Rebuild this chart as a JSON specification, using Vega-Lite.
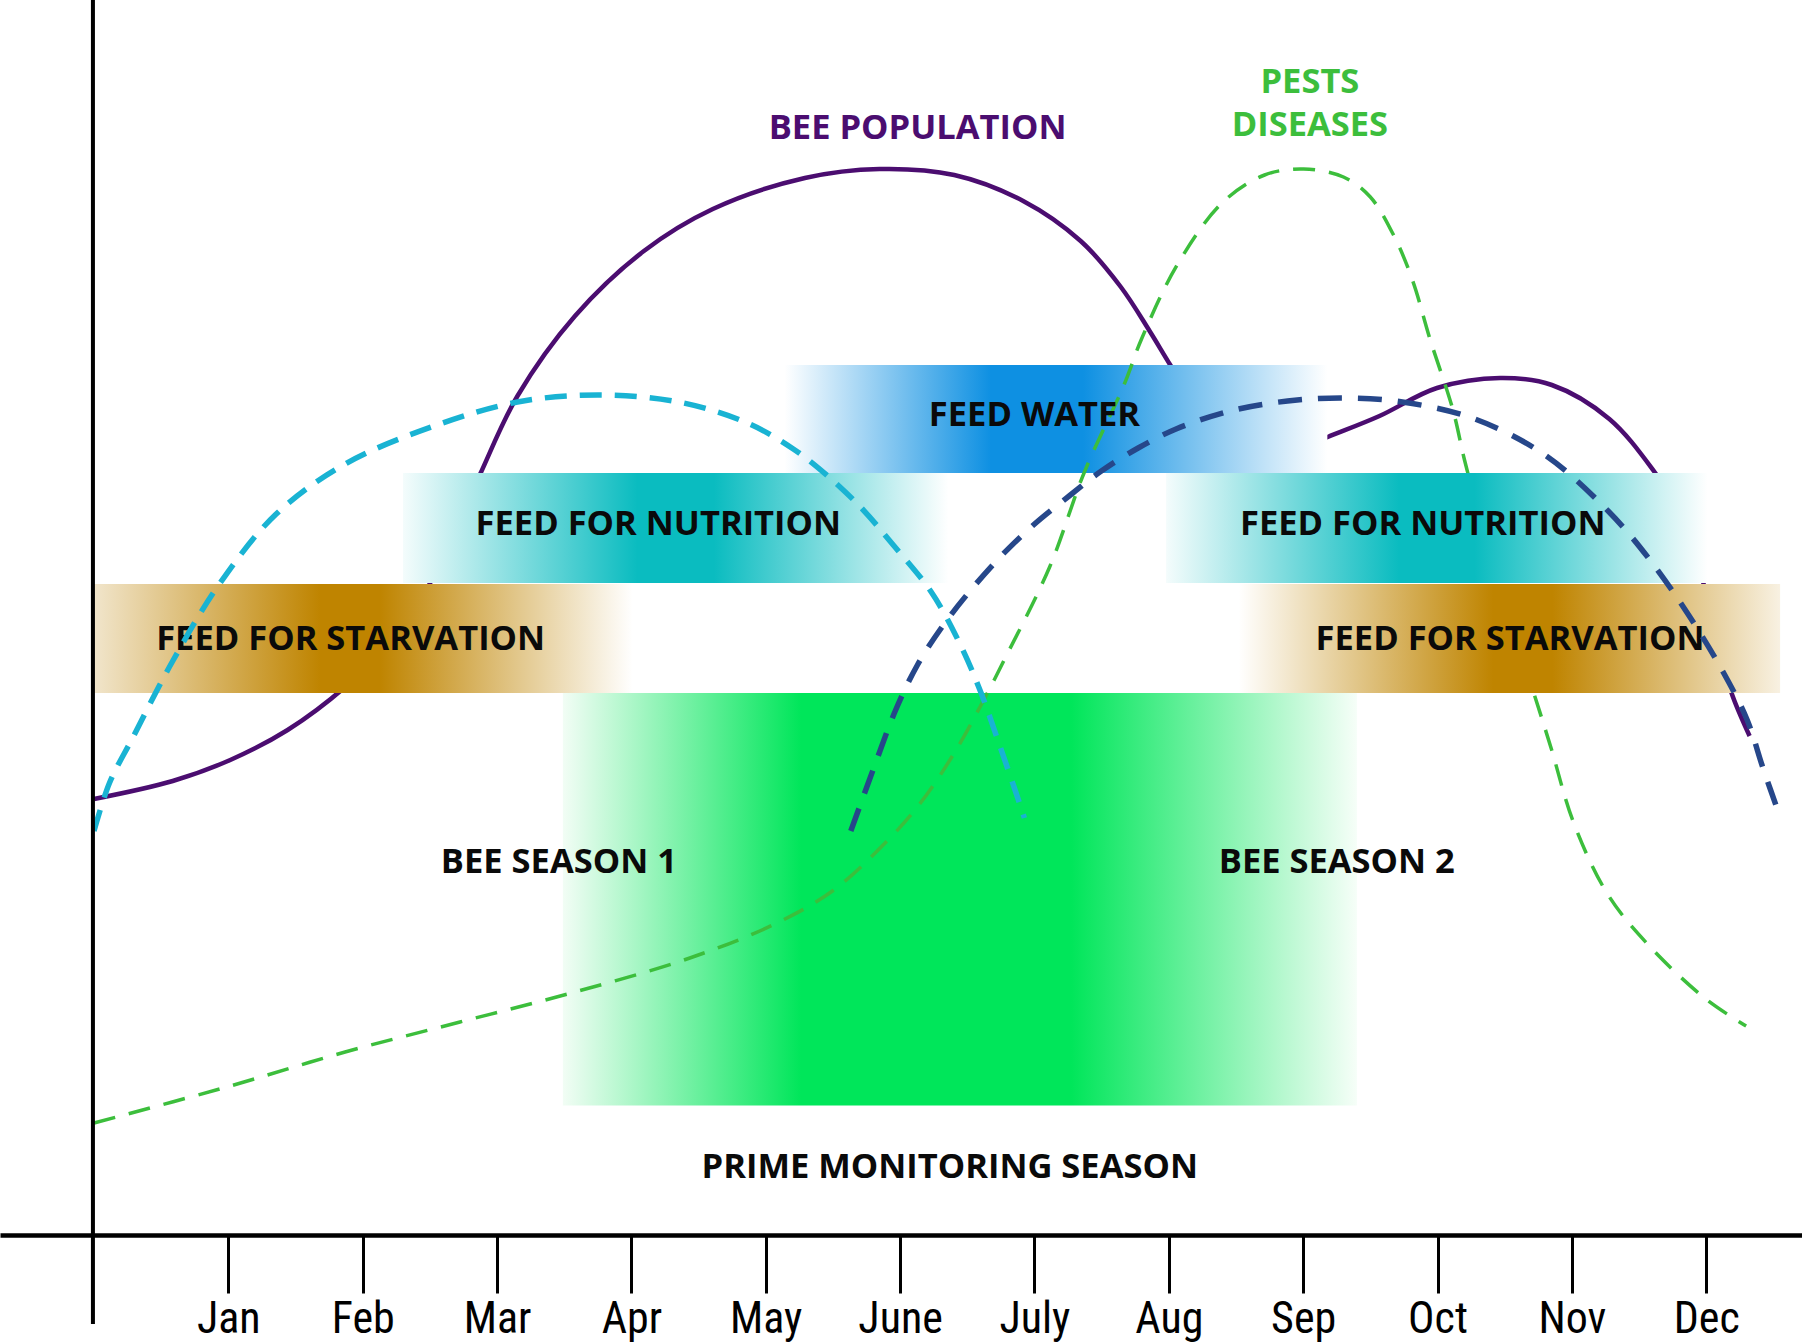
{
  "$schema": "https://vega.github.io/schema/vega-lite/v6.json",
  "width": 1802,
  "height": 1343,
  "autosize": {"type": "none"},
  "padding": 0,
  "background": "white",
  "config": {"view": {"stroke": null}},
  "datasets": {
    "bands": [
      {"band": "water", "m": 5.14, "m2": 9.18, "v": 76.2, "v2": 87.0},
      {"band": "monitor", "m": 3.49, "m2": 9.40, "v": 12.95, "v2": 54.2},
      {"band": "nutritionL", "m": 2.30, "m2": 6.36, "v": 65.2, "v2": 76.2},
      {"band": "nutritionR", "m": 7.98, "m2": 12.01, "v": 65.2, "v2": 76.2},
      {"band": "starvationL", "m": 0.0, "m2": 4.01, "v": 54.2, "v2": 65.1},
      {"band": "starvationR", "m": 8.52, "m2": 12.55, "v": 54.2, "v2": 65.1}
    ],
    "curves": [
      {"series": "Bee population", "m": 0.0, "v": 43.6},
      {"series": "Bee population", "m": 0.586, "v": 45.4},
      {"series": "Bee population", "m": 1.014, "v": 47.5},
      {"series": "Bee population", "m": 1.441, "v": 50.5},
      {"series": "Bee population", "m": 1.869, "v": 54.8},
      {"series": "Bee population", "m": 2.211, "v": 59.4},
      {"series": "Bee population", "m": 2.502, "v": 65.2},
      {"series": "Bee population", "m": 2.724, "v": 71.6},
      {"series": "Bee population", "m": 2.878, "v": 76.2},
      {"series": "Bee population", "m": 3.152, "v": 83.9},
      {"series": "Bee population", "m": 3.580, "v": 91.9},
      {"series": "Bee population", "m": 4.093, "v": 98.4},
      {"series": "Bee population", "m": 4.606, "v": 102.6},
      {"series": "Bee population", "m": 5.291, "v": 105.7},
      {"series": "Bee population", "m": 5.847, "v": 106.6},
      {"series": "Bee population", "m": 6.403, "v": 106.0},
      {"series": "Bee population", "m": 6.916, "v": 103.4},
      {"series": "Bee population", "m": 7.344, "v": 99.4},
      {"series": "Bee population", "m": 7.643, "v": 94.8},
      {"series": "Bee population", "m": 7.857, "v": 90.4},
      {"series": "Bee population", "m": 8.011, "v": 87.0},
      {"series": "Bee population", "m": 8.370, "v": 79.3},
      {"series": "Bee population", "m": 8.713, "v": 77.8},
      {"series": "Bee population", "m": 8.969, "v": 78.6},
      {"series": "Bee population", "m": 9.183, "v": 79.8},
      {"series": "Bee population", "m": 9.568, "v": 81.9},
      {"series": "Bee population", "m": 9.996, "v": 84.7},
      {"series": "Bee population", "m": 10.466, "v": 85.7},
      {"series": "Bee population", "m": 10.851, "v": 85.0},
      {"series": "Bee population", "m": 11.279, "v": 81.6},
      {"series": "Bee population", "m": 11.621, "v": 76.2},
      {"series": "Bee population", "m": 11.835, "v": 71.8},
      {"series": "Bee population", "m": 11.963, "v": 66.0},
      {"series": "Bee population", "m": 12.092, "v": 59.1},
      {"series": "Bee population", "m": 12.186, "v": 54.3},
      {"series": "Bee population", "m": 12.323, "v": 49.9},

      {"series": "Forage A", "m": 0.0, "v": 40.4},
      {"series": "Forage A", "m": 0.115, "v": 45.2},
      {"series": "Forage A", "m": 0.287, "v": 49.7},
      {"series": "Forage A", "m": 0.586, "v": 57.4},
      {"series": "Forage A", "m": 0.928, "v": 65.0},
      {"series": "Forage A", "m": 1.356, "v": 72.1},
      {"series": "Forage A", "m": 1.869, "v": 77.1},
      {"series": "Forage A", "m": 2.511, "v": 80.8},
      {"series": "Forage A", "m": 3.152, "v": 83.3},
      {"series": "Forage A", "m": 3.751, "v": 84.0},
      {"series": "Forage A", "m": 4.350, "v": 83.3},
      {"series": "Forage A", "m": 4.863, "v": 81.2},
      {"series": "Forage A", "m": 5.205, "v": 78.6},
      {"series": "Forage A", "m": 5.462, "v": 75.9},
      {"series": "Forage A", "m": 5.719, "v": 72.6},
      {"series": "Forage A", "m": 5.949, "v": 69.0},
      {"series": "Forage A", "m": 6.232, "v": 64.3},
      {"series": "Forage A", "m": 6.446, "v": 59.1},
      {"series": "Forage A", "m": 6.600, "v": 54.3},
      {"series": "Forage A", "m": 6.745, "v": 48.8},
      {"series": "Forage A", "m": 6.848, "v": 44.8},
      {"series": "Forage A", "m": 6.925, "v": 41.7},

      {"series": "Forage B", "m": 5.633, "v": 40.4},
      {"series": "Forage B", "m": 5.804, "v": 46.7},
      {"series": "Forage B", "m": 5.967, "v": 52.5},
      {"series": "Forage B", "m": 6.129, "v": 57.0},
      {"series": "Forage B", "m": 6.317, "v": 60.9},
      {"series": "Forage B", "m": 6.514, "v": 64.3},
      {"series": "Forage B", "m": 6.745, "v": 67.8},
      {"series": "Forage B", "m": 6.984, "v": 70.9},
      {"series": "Forage B", "m": 7.258, "v": 73.9},
      {"series": "Forage B", "m": 7.498, "v": 76.4},
      {"series": "Forage B", "m": 7.772, "v": 78.7},
      {"series": "Forage B", "m": 8.054, "v": 80.6},
      {"series": "Forage B", "m": 8.456, "v": 82.4},
      {"series": "Forage B", "m": 8.884, "v": 83.4},
      {"series": "Forage B", "m": 9.303, "v": 83.7},
      {"series": "Forage B", "m": 9.739, "v": 83.3},
      {"series": "Forage B", "m": 10.278, "v": 81.6},
      {"series": "Forage B", "m": 10.800, "v": 78.0},
      {"series": "Forage B", "m": 11.270, "v": 72.4},
      {"series": "Forage B", "m": 11.570, "v": 67.7},
      {"series": "Forage B", "m": 11.869, "v": 62.0},
      {"series": "Forage B", "m": 12.126, "v": 56.3},
      {"series": "Forage B", "m": 12.305, "v": 51.5},
      {"series": "Forage B", "m": 12.425, "v": 46.6},
      {"series": "Forage B", "m": 12.553, "v": 41.7},

      {"series": "Pests diseases", "m": 0.0, "v": 11.2},
      {"series": "Pests diseases", "m": 1.014, "v": 14.9},
      {"series": "Pests diseases", "m": 1.869, "v": 18.3},
      {"series": "Pests diseases", "m": 2.724, "v": 21.3},
      {"series": "Pests diseases", "m": 3.580, "v": 24.3},
      {"series": "Pests diseases", "m": 4.435, "v": 27.7},
      {"series": "Pests diseases", "m": 5.068, "v": 31.1},
      {"series": "Pests diseases", "m": 5.496, "v": 34.4},
      {"series": "Pests diseases", "m": 5.881, "v": 39.1},
      {"series": "Pests diseases", "m": 6.146, "v": 43.1},
      {"series": "Pests diseases", "m": 6.403, "v": 48.2},
      {"series": "Pests diseases", "m": 6.642, "v": 54.0},
      {"series": "Pests diseases", "m": 6.771, "v": 57.4},
      {"series": "Pests diseases", "m": 7.113, "v": 66.8},
      {"series": "Pests diseases", "m": 7.369, "v": 76.2},
      {"series": "Pests diseases", "m": 7.669, "v": 85.1},
      {"series": "Pests diseases", "m": 7.797, "v": 89.6},
      {"series": "Pests diseases", "m": 8.062, "v": 97.0},
      {"series": "Pests diseases", "m": 8.396, "v": 103.2},
      {"series": "Pests diseases", "m": 8.713, "v": 106.0},
      {"series": "Pests diseases", "m": 9.003, "v": 106.6},
      {"series": "Pests diseases", "m": 9.300, "v": 105.8},
      {"series": "Pests diseases", "m": 9.500, "v": 103.8},
      {"series": "Pests diseases", "m": 9.680, "v": 99.8},
      {"series": "Pests diseases", "m": 9.816, "v": 95.4},
      {"series": "Pests diseases", "m": 9.944, "v": 89.6},
      {"series": "Pests diseases", "m": 10.115, "v": 82.5},
      {"series": "Pests diseases", "m": 10.201, "v": 77.5},
      {"series": "Pests diseases", "m": 10.338, "v": 70.6},
      {"series": "Pests diseases", "m": 10.509, "v": 62.6},
      {"series": "Pests diseases", "m": 10.714, "v": 54.3},
      {"series": "Pests diseases", "m": 10.843, "v": 48.8},
      {"series": "Pests diseases", "m": 11.014, "v": 41.2},
      {"series": "Pests diseases", "m": 11.270, "v": 34.0},
      {"series": "Pests diseases", "m": 11.570, "v": 29.0},
      {"series": "Pests diseases", "m": 11.997, "v": 23.6},
      {"series": "Pests diseases", "m": 12.297, "v": 20.9}
    ],
    "labels": [
      {"group": "band", "text": "FEED WATER", "m": 7.00, "v": 81.9},
      {"group": "band", "text": "FEED FOR NUTRITION", "m": 4.20, "v": 71.0},
      {"group": "band", "text": "FEED FOR NUTRITION", "m": 9.89, "v": 71.0},
      {"group": "band", "text": "FEED FOR STARVATION", "m": 1.91, "v": 59.5},
      {"group": "band", "text": "FEED FOR STARVATION", "m": 10.54, "v": 59.5},
      {"group": "band", "text": "BEE SEASON 1", "m": 3.46, "v": 37.2},
      {"group": "band", "text": "BEE SEASON 2", "m": 9.25, "v": 37.2},
      {"group": "band", "text": "PRIME MONITORING SEASON", "m": 6.37, "v": 6.7},
      {"group": "bee", "text": "BEE POPULATION", "m": 6.13, "v": 110.6},
      {"group": "pests", "text": "PESTS", "m": 9.05, "v": 115.2},
      {"group": "pests", "text": "DISEASES", "m": 9.05, "v": 110.9}
    ],
    "frame": [
      {"m": -0.008, "v": 123.5, "v2": -8.9}
    ]
  },
  "encoding": {
    "x": {
      "field": "m", "type": "quantitative",
      "scale": {"domain": [-0.6997, 12.713], "nice": false, "zero": false},
      "axis": {
        "orient": "bottom", "offset": -108, "title": null, "grid": false,
        "values": [1, 2, 3, 4, 5, 6, 7, 8, 9, 10, 11, 12],
        "labelExpr": "['', 'Jan', 'Feb', 'Mar', 'Apr', 'May', 'June', 'July', 'Aug', 'Sep', 'Oct', 'Nov', 'Dec'][datum.value]",
        "domain": true, "domainColor": "#000000", "domainWidth": 4.5,
        "ticks": true, "tickColor": "#000000", "tickWidth": 3, "tickSize": 58,
        "labelFont": "Liberation Sans Narrow, Roboto Condensed, Roboto", "labelFontSize": 44,
        "labelColor": "#000000", "labelPadding": 39, "labelBaseline": "alphabetic",
        "labelOverlap": false, "labelFlush": false
      }
    },
    "y": {
      "field": "v", "type": "quantitative",
      "scale": {"domain": [-10.8, 123.5], "nice": false, "zero": false},
      "axis": null
    }
  },
  "layer": [
    {
      "data": {"name": "curves"},
      "transform": [{"filter": "datum.series === 'Bee population'"}],
      "mark": {"type": "line", "interpolate": "catmull-rom", "color": "#4b0d70", "strokeWidth": 4.5},
      "encoding": {}
    },
    {
      "data": {"name": "bands"},
      "transform": [{"filter": "datum.band === 'water'"}],
      "mark": {"type": "rect", "color": {"gradient": "linear", "x1": 0, "y1": 0, "x2": 1, "y2": 0,
        "stops": [{"offset": 0, "color": "#ffffff"}, {"offset": 0.38, "color": "#0e90e2"}, {"offset": 0.55, "color": "#0e90e2"}, {"offset": 1, "color": "#ffffff"}]}},
      "encoding": {"x2": {"field": "m2"}, "y2": {"field": "v2"}}
    },
    {
      "data": {"name": "bands"},
      "transform": [{"filter": "datum.band === 'monitor'"}],
      "mark": {"type": "rect", "color": {"gradient": "linear", "x1": 0, "y1": 0, "x2": 1, "y2": 0,
        "stops": [{"offset": 0, "color": "#f2fdf5"}, {"offset": 0.3, "color": "#00e65a"}, {"offset": 0.64, "color": "#00e65a"}, {"offset": 1, "color": "#f6fef8"}]}},
      "encoding": {"x2": {"field": "m2"}, "y2": {"field": "v2"}}
    },
    {
      "data": {"name": "curves"},
      "transform": [{"filter": "datum.series === 'Pests diseases'"}],
      "mark": {"type": "line", "interpolate": "catmull-rom", "color": "#3cbe3c", "strokeWidth": 3.5, "strokeDash": [22, 14]},
      "encoding": {}
    },
    {
      "data": {"name": "bands"},
      "transform": [{"filter": "datum.band === 'nutritionL' || datum.band === 'nutritionR'"}],
      "mark": {"type": "rect", "color": {"gradient": "linear", "x1": 0, "y1": 0, "x2": 1, "y2": 0,
        "stops": [{"offset": 0, "color": "#f4fcfc"}, {"offset": 0.43, "color": "#0abcc0"}, {"offset": 0.57, "color": "#0abcc0"}, {"offset": 1, "color": "#ffffff"}]}},
      "encoding": {"x2": {"field": "m2"}, "y2": {"field": "v2"}}
    },
    {
      "data": {"name": "bands"},
      "transform": [{"filter": "datum.band === 'starvationL'"}],
      "mark": {"type": "rect", "color": {"gradient": "linear", "x1": 0, "y1": 0, "x2": 1, "y2": 0,
        "stops": [{"offset": 0, "color": "#f1e5cb"}, {"offset": 0.42, "color": "#bf8400"}, {"offset": 0.53, "color": "#bf8400"}, {"offset": 1, "color": "#ffffff"}]}},
      "encoding": {"x2": {"field": "m2"}, "y2": {"field": "v2"}}
    },
    {
      "data": {"name": "bands"},
      "transform": [{"filter": "datum.band === 'starvationR'"}],
      "mark": {"type": "rect", "color": {"gradient": "linear", "x1": 0, "y1": 0, "x2": 1, "y2": 0,
        "stops": [{"offset": 0, "color": "#ffffff"}, {"offset": 0.47, "color": "#bf8400"}, {"offset": 0.58, "color": "#bf8400"}, {"offset": 1, "color": "#f8f1e2"}]}},
      "encoding": {"x2": {"field": "m2"}, "y2": {"field": "v2"}}
    },
    {
      "data": {"name": "labels"},
      "transform": [{"filter": "datum.group === 'band'"}],
      "mark": {"type": "text", "font": "Open Sans", "fontWeight": "bold", "fontSize": 34.5, "color": "#0a0a0a", "align": "center", "baseline": "middle"},
      "encoding": {"text": {"field": "text"}}
    },
    {
      "data": {"name": "curves"},
      "transform": [{"filter": "datum.series === 'Forage A'"}],
      "mark": {"type": "line", "interpolate": "catmull-rom", "color": "#19b3d3", "strokeWidth": 5.5, "strokeDash": [22, 13]},
      "encoding": {}
    },
    {
      "data": {"name": "curves"},
      "transform": [{"filter": "datum.series === 'Forage B'"}],
      "mark": {"type": "line", "interpolate": "catmull-rom", "color": "#26478a", "strokeWidth": 5.5, "strokeDash": [24, 16]},
      "encoding": {}
    },
    {
      "data": {"name": "frame"},
      "mark": {"type": "rule", "color": "#000000", "strokeWidth": 4},
      "encoding": {"y2": {"field": "v2"}}
    },
    {
      "data": {"name": "labels"},
      "transform": [{"filter": "datum.group === 'bee'"}],
      "mark": {"type": "text", "font": "Open Sans", "fontWeight": "bold", "fontSize": 34.5, "color": "#4b0d70", "align": "center", "baseline": "middle"},
      "encoding": {"text": {"field": "text"}}
    },
    {
      "data": {"name": "labels"},
      "transform": [{"filter": "datum.group === 'pests'"}],
      "mark": {"type": "text", "font": "Open Sans", "fontWeight": "bold", "fontSize": 34.5, "color": "#3cbe3c", "align": "center", "baseline": "middle"},
      "encoding": {"text": {"field": "text"}}
    }
  ]
}
